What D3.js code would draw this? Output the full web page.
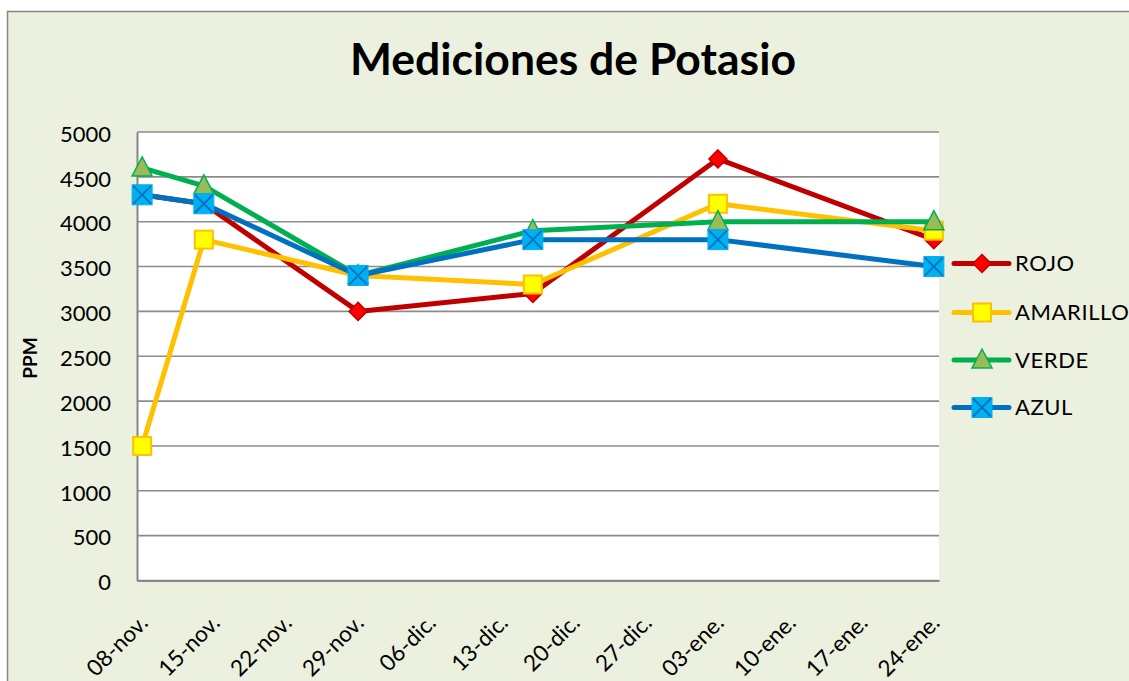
<!DOCTYPE html>
<html><head><meta charset="utf-8">
<script src="https://cdn.jsdelivr.net/npm/d3@7"></script>
<style>html,body{margin:0;padding:0;background:#fff;}svg{display:block;}</style>
</head><body>
<script>
// ---- data ----
const dates = ["2012-11-08","2012-11-14","2012-11-29","2012-12-16","2013-01-03","2013-01-24"];
const seriesNames = ["ROJO","AMARILLO","VERDE","AZUL"];
const rojo     = [4300, 4200, 3000, 3200, 4700, 3800];
const amarillo = [1500, 3800, 3400, 3300, 4200, 3900];
const verde    = [4600, 4400, 3400, 3900, 4000, 4000];
const azul     = [4300, 4200, 3400, 3800, 3800, 3500];
const yTicks = [0,500,1000,1500,2000,2500,3000,3500,4000,4500,5000];
const xTickDates  = ["2012-11-08","2012-11-15","2012-11-22","2012-11-29","2012-12-06","2012-12-13","2012-12-20","2012-12-27","2013-01-03","2013-01-10","2013-01-17","2013-01-24"];
const xTickLabels = ["08-nov.","15-nov.","22-nov.","29-nov.","06-dic.","13-dic.","20-dic.","27-dic.","03-ene.","10-ene.","17-ene.","24-ene."];
const title = "Mediciones de Potasio";
const yTitle = "PPM";

// ---- styles ----
const styles = {
  ROJO:     {line:"#C00000", fill:"#FF0000", stroke:"#C00000", shape:"diamond"},
  AMARILLO: {line:"#FFC000", fill:"#FFFF00", stroke:"#FFC000", shape:"square"},
  VERDE:    {line:"#00B050", fill:"#9BBB59", stroke:"#00B050", shape:"triangle"},
  AZUL:     {line:"#0070C0", fill:"#00B0F0", stroke:"#00B0F0", shape:"xsquare"}
};
const seriesData = [rojo, amarillo, verde, azul];

const W = 1129, H = 681;
const L = 137, R = 939, T = 132, B = 580.5;
const font = "Lato, 'Open Sans', sans-serif";
const parse = d3.utcParse("%Y-%m-%d");

const svg = d3.select("body").append("svg").attr("width", W).attr("height", H);
svg.append("rect").attr("x",0).attr("y",0).attr("width",W).attr("height",H).attr("fill","#fff");
svg.append("rect").attr("x",7.5).attr("y",11.5).attr("width",W+20).attr("height",H+20)
  .attr("fill","#EBF1DE").attr("stroke","#868686").attr("stroke-width",1.5);

const d0 = parse(xTickDates[0]), d1 = parse(xTickDates[xTickDates.length-1]);
const x = d3.scaleUtc()
  .domain([d3.utcHour.offset(d0,-12), d3.utcHour.offset(d1,12)])
  .range([L, R]);
const y = d3.scaleLinear().domain([0,5000]).range([B, T]);

// plot area
svg.append("rect").attr("x",L).attr("y",T).attr("width",R-L).attr("height",B-T).attr("fill","#fff");

// gridlines
svg.append("g").selectAll("line").data(yTicks).join("line")
  .attr("x1",L).attr("x2",R).attr("y1",d=>y(d)).attr("y2",d=>y(d))
  .attr("stroke","#8c8c8c").attr("stroke-width",1.6);

// y axis
const yAxis = svg.append("g").attr("transform",`translate(${L},0)`)
  .call(d3.axisLeft(y).tickValues(yTicks).tickSize(0).tickPadding(26).tickFormat(d3.format("d")));
yAxis.select(".domain").attr("stroke","#868686").attr("stroke-width",2);
yAxis.selectAll("text").attr("font-family",font).attr("font-size",22).attr("fill","#000").attr("dy","0.42em");

// x axis
const xAxis = svg.append("g").attr("transform",`translate(0,${B})`)
  .call(d3.axisBottom(x).tickValues(xTickDates.map(parse)).tickSize(0)
    .tickFormat((d,i)=>xTickLabels[i]));
xAxis.select(".domain").attr("stroke","#868686").attr("stroke-width",2);
xAxis.selectAll("text")
  .attr("font-family",font).attr("font-size",22.5).attr("fill","#000")
  .attr("text-anchor","end").attr("y",0).attr("dy","0.36em")
  .attr("transform","translate(1,38) rotate(-45)");

// title
svg.append("text").attr("x",573).attr("y",75).attr("text-anchor","middle")
  .attr("font-family",font).attr("font-weight","bold").attr("font-size",43)
  .attr("textLength",446).attr("lengthAdjust","spacingAndGlyphs").text(title);

// y title
svg.append("text").attr("transform","translate(37,358) rotate(-90)").attr("text-anchor","middle")
  .attr("font-family",font).attr("font-weight","bold").attr("font-size",19).text(yTitle);

function marker(g, shape, st, cx, cy){
  if(shape==="diamond"){
    const s=9;
    g.append("path").attr("d",`M${cx},${cy-s}L${cx+s},${cy}L${cx},${cy+s}L${cx-s},${cy}Z`)
      .attr("fill",st.fill).attr("stroke",st.stroke).attr("stroke-width",1.5);
  } else if(shape==="square"){
    const s=9;
    g.append("rect").attr("x",cx-s).attr("y",cy-s).attr("width",2*s).attr("height",2*s)
      .attr("fill",st.fill).attr("stroke",st.stroke).attr("stroke-width",2);
  } else if(shape==="triangle"){
    const s=10;
    g.append("path").attr("d",`M${cx},${cy-s-1}L${cx+s},${cy+s-2}L${cx-s},${cy+s-2}Z`)
      .attr("fill",st.fill).attr("stroke",st.stroke).attr("stroke-width",1.5);
  } else {
    const s=10;
    g.append("rect").attr("x",cx-s).attr("y",cy-s).attr("width",2*s).attr("height",2*s)
      .attr("fill",st.fill).attr("stroke",st.stroke).attr("stroke-width",1);
    g.append("path").attr("d",`M${cx-s+1},${cy-s+1}L${cx+s-1},${cy+s-1}M${cx+s-1},${cy-s+1}L${cx-s+1},${cy+s-1}`)
      .attr("stroke","#0070C0").attr("stroke-width",1.8);
  }
}

const line = d3.line().x(d=>x(d.date)).y(d=>y(d.v));
seriesNames.forEach((name,si)=>{
  const st = styles[name];
  const pts = seriesData[si].map((v,i)=>({date:parse(dates[i]), v}));
  const g = svg.append("g");
  g.append("path").datum(pts).attr("d",line).attr("fill","none")
    .attr("stroke",st.line).attr("stroke-width",5).attr("stroke-linejoin","round");
  pts.forEach(p=>marker(g, st.shape, st, x(p.date), y(p.v)));
});

// legend
const legY = [263.5, 312.5, 360, 407.5];
seriesNames.forEach((name,i)=>{
  const st = styles[name];
  const g = svg.append("g");
  g.append("line").attr("x1",954).attr("x2",1009).attr("y1",legY[i]).attr("y2",legY[i])
    .attr("stroke",st.line).attr("stroke-width",5).attr("stroke-linecap","round");
  marker(g, st.shape, st, 982, legY[i]);
  g.append("text").attr("x",1015).attr("y",legY[i]).attr("dy","0.36em")
    .attr("font-family",font).attr("font-size",22).attr("letter-spacing",0.6).attr("fill","#000").text(name);
});
</script>
</body></html>
